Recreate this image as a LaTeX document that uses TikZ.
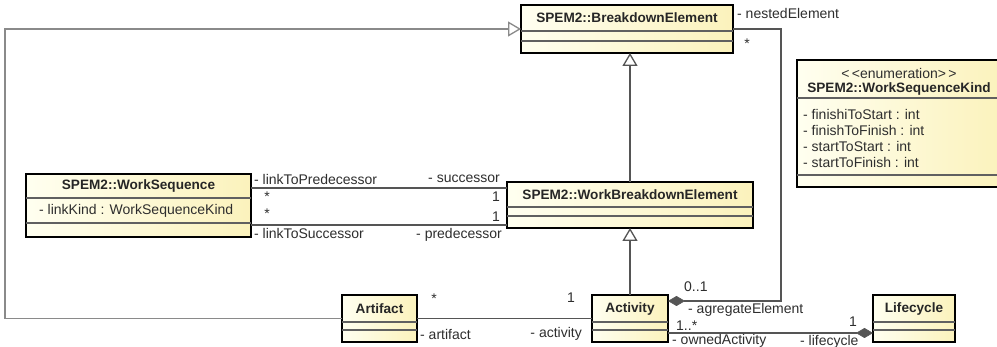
\documentclass[tikz,border=0pt]{standalone}
\usepackage{fontspec}
\setmainfont{Liberation Sans}
\usetikzlibrary{arrows.meta}
\definecolor{lineg}{HTML}{555555}
\definecolor{frameg}{HTML}{8A8A8A}
\definecolor{fillL}{HTML}{FFFFF0}
\definecolor{fillR}{HTML}{FBF2BC}
\definecolor{labelc}{HTML}{2E2E2E}
\definecolor{divg}{HTML}{606060}
\begin{document}
\begin{tikzpicture}[x=1pt,y=-1pt,
  umlbox/.style={draw=black, line width=2.2pt, left color=fillL, right color=fillR, rectangle, inner sep=0pt, outer sep=0pt, anchor=north west},
  divider/.style={draw=divg, line width=1.1pt},
  ttl/.style={font=\fontsize{13.6}{15}\selectfont\bfseries, text=black!85, inner sep=0pt},
  attr/.style={font=\fontsize{14}{15}\selectfont, text=labelc, inner sep=0pt},
  lbl/.style={font=\fontsize{14}{15}\selectfont, text=labelc, inner sep=0pt},
  conn/.style={draw=lineg, line width=1.4pt},
  frameline/.style={draw=frameg, line width=1.4pt},
  gen/.style={-{Triangle[open, length=13pt, width=15pt, line width=1.3pt]}},
  comp/.style={-{Diamond[length=17pt, width=10pt, fill=lineg, line width=0.6pt]}}
]
\useasboundingbox[fill=white] (0,0) rectangle (997,347);

% ---- boxes ----
\node[umlbox, minimum width=212pt, minimum height=48pt] (be) at (521,5) {};
\draw[divider] (be.west |- 0,31) -- (be.east |- 0,31);
\draw[divider] (be.west |- 0,41) -- (be.east |- 0,41);
\node[ttl] (bet) at (627,18) {SPEM2::BreakdownElement};

\node[umlbox, minimum width=246pt, minimum height=46pt] (wbe) at (507,182) {};
\draw[divider] (wbe.west |- 0,207) -- (wbe.east |- 0,207);
\draw[divider] (wbe.west |- 0,216) -- (wbe.east |- 0,216);
\node[ttl] (wbet) at (630,194.5) {SPEM2::WorkBreakdownElement};

\node[umlbox, minimum width=225pt, minimum height=63pt] (ws) at (26,174) {};
\draw[divider] (ws.west |- 0,198) -- (ws.east |- 0,198);
\draw[divider] (ws.west |- 0,223) -- (ws.east |- 0,223);
\node[ttl] (wst) at (138.5,186) {SPEM2::WorkSequence};
\node[attr, anchor=west] (wsa) at (39,210.5) {- linkKind : WorkSequenceKind};

\node[umlbox, minimum width=206pt, minimum height=127pt] (en) at (797,60) {};
\draw[divider] (en.west |- 0,98) -- (en.east |- 0,98);
\draw[divider] (en.west |- 0,175) -- (en.east |- 0,175);
\node[lbl] (ens) at (899,73) {<\,<enumeration>\,>};
\node[ttl] (ent) at (899,88.5) {SPEM2::WorkSequenceKind};
\node[attr, anchor=west] (ea1) at (803,114) {- finishiToStart : int};
\node[attr, anchor=west] (ea2) at (803,130) {- finishToFinish : int};
\node[attr, anchor=west] (ea3) at (803,146) {- startToStart : int};
\node[attr, anchor=west] (ea4) at (803,162) {- startToFinish : int};

\node[umlbox, minimum width=75pt, minimum height=47pt] (art) at (342,295) {};
\draw[divider] (art.west |- 0,322) -- (art.east |- 0,322);
\draw[divider] (art.west |- 0,330) -- (art.east |- 0,330);
\node[ttl] (artt) at (379.5,309) {Artifact};

\node[umlbox, minimum width=76pt, minimum height=47pt] (act) at (592,295) {};
\draw[divider] (act.west |- 0,322) -- (act.east |- 0,322);
\draw[divider] (act.west |- 0,330) -- (act.east |- 0,330);
\node[ttl] (actt) at (630,309) {Activity};

\node[umlbox, minimum width=82pt, minimum height=47pt] (life) at (873,295) {};
\draw[divider] (life.west |- 0,322) -- (life.east |- 0,322);
\draw[divider] (life.west |- 0,330) -- (life.east |- 0,330);
\node[ttl] (lifet) at (914,309) {Lifecycle};

% ---- connectors ----
\coordinate (f1) at (5,318.5);
\coordinate (f2) at (5,29);
\draw[frameline, gen] (art.west) -- (f1) -- (f2) -- (be.west);

\coordinate (n1) at (781,29);
\coordinate (n2) at (781,301);
\draw[conn, comp] (be.east) -- (n1) -- (n2) -- (act.east |- n2);

\draw[conn, gen] (wbe.north -| 630,0) -- (630,53);
\draw[conn, gen] (act.north) -- (act.north |- wbe.south);

\draw[conn] (ws.east |- 0,188) -- (wbe.west |- 0,188);
\draw[conn] (ws.east |- 0,225) -- (wbe.west |- 0,225);

\draw[conn] (art.east) -- (act.west);

\draw[conn, comp] (act.east |- 0,333) -- (life.west |- 0,333);

% ---- labels ----
\node[lbl, anchor=west] (l1) at (737,14) {- nestedElement};
\node[lbl] (l2) at (747,44) {*};
\node[lbl, anchor=west] (l3) at (254,179) {- linkToPredecessor};
\node[lbl, anchor=east] (l4) at (500,179) {- successor};
\node[lbl] (l5) at (267,197) {*};
\node[lbl] (l6) at (496,197) {1};
\node[lbl] (l7) at (267,214) {*};
\node[lbl] (l8) at (496,217) {1};
\node[lbl, anchor=west] (l9) at (254,233) {- linkToSuccessor};
\node[lbl, anchor=east] (l10) at (502,235) {- predecessor};
\node[lbl] (l11) at (434,299) {*};
\node[lbl] (l12) at (571,298) {1};
\node[lbl, anchor=west] (l13) at (420,334) {- artifact};
\node[lbl, anchor=east] (l14) at (582,334) {- activity};
\node[lbl, anchor=west] (l15) at (684,287) {0..1};
\node[lbl, anchor=west] (l16) at (688,309.5) {- agregateElement};
\node[lbl, anchor=west] (l17) at (676,326) {1..*};
\node[lbl, anchor=west] (l18) at (672,340.5) {- ownedActivity};
\node[lbl, anchor=west] (l19) at (800,341.5) {- lifecycle};
\node[lbl] (l20) at (853,322) {1};
\end{tikzpicture}
\end{document}
